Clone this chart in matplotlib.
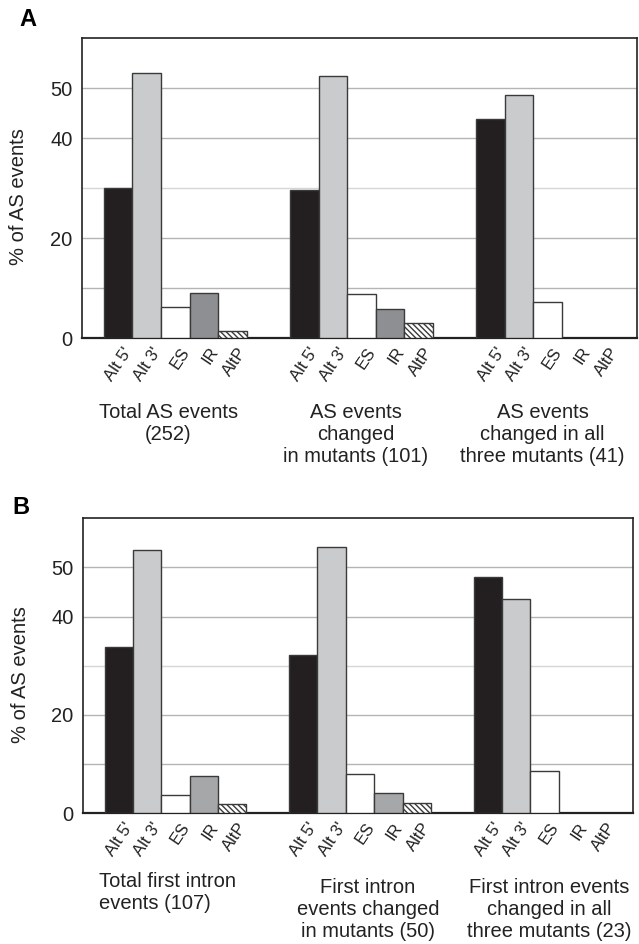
import matplotlib.pyplot as plt
from matplotlib.transforms import blended_transform_factory

plt.rcParams["font.family"] = ["Liberation Sans", "DejaVu Sans"]
plt.rcParams["hatch.linewidth"] = 1.0

EVENT_TYPES = ["Alt 5'", "Alt 3'", "ES", "IR", "AltP"]

# panel A: % of AS events per group
A_GROUPS = ["Total AS events\n(252)", "AS events\nchanged\nin mutants (101)", "AS events\nchanged in all\nthree mutants (41)"]
A_VALUES = [
    [30.0, 53.1, 6.3, 9.1, 1.5],
    [29.7, 52.4, 8.9, 5.8, 3.0],
    [43.9, 48.7, 7.3, 0.0, 0.0],
]

# panel B: first intron events
B_GROUPS = ["Total first intron\nevents (107)", "First intron\nevents changed\nin mutants (50)", "First intron events\nchanged in all\nthree mutants (23)"]
B_VALUES = [
    [33.8, 53.5, 3.7, 7.5, 1.8],
    [32.2, 54.2, 8.0, 4.1, 2.0],
    [48.0, 43.5, 8.7, 0.0, 0.0],
]

Y_TICKS = [0, 20, 40, 50]
GRID_LINES = [10, 20, 30, 40, 50]

EDGE = "#3a3a3a"
FILLS = ["#231f20", "#cacbcd", "#ffffff", None, "#ffffff"]
HATCHES = [None, None, None, None, "\\\\\\\\\\\\"]


def draw_panel(fig, rect, values, groups, ir_color, label_dx, label_y, label_align, letter, letter_xy):
    ax = fig.add_axes(rect)
    group_step = 6.5
    centers = []
    names = []
    for g, row in enumerate(values):
        for i, v in enumerate(row):
            x = g * group_step + i + 0.5
            centers.append(x)
            names.append(EVENT_TYPES[i])
            face = ir_color if i == 3 else FILLS[i]
            if v <= 0:
                continue
            ax.bar(x, v, width=1.0, color=face, edgecolor=EDGE, linewidth=1.0,
                   hatch=HATCHES[i], zorder=3)
    for y in GRID_LINES:
        ax.axhline(y, color="#d6d6d6" if y == 30 else "#b4b4b4", linewidth=1.0, zorder=1)
    ax.set_xlim(-0.75, 18.63)
    ax.set_ylim(0, 60)
    ax.set_yticks(Y_TICKS)
    ax.set_yticklabels([str(t) for t in Y_TICKS], fontsize=14.5, color="#222222")
    ax.set_xticks([c + 0.38 for c in centers])
    ax.set_xticklabels(names, rotation=56, ha="right", va="center", rotation_mode="anchor",
                       fontsize=12, color="#222222")
    ax.tick_params(axis="y", length=0, pad=7)
    ax.tick_params(axis="x", length=0, pad=8)
    for side in ["left", "top", "right"]:
        ax.spines[side].set_linewidth(1.2)
        ax.spines[side].set_color("#222222")
    ax.spines["bottom"].set_linewidth(1.6)
    ax.spines["bottom"].set_color("#222222")
    ax.set_ylabel("% of AS events", fontsize=14.5, color="#222222")
    ax.yaxis.set_label_coords(-0.097, 0.47)

    trans = blended_transform_factory(ax.transData, ax.transAxes)
    for g, text in enumerate(groups):
        ax.text(g * group_step + 2.5 + label_dx[g], label_y[g], text, transform=trans,
                ha="center", va="top", multialignment=label_align[g],
                fontsize=14.5, color="#222222", linespacing=1.2)
    fig.text(letter_xy[0], letter_xy[1], letter, fontsize=17, fontweight="bold",
             ha="center", va="center")
    return ax


fig = plt.figure(figsize=(6.39, 9.44), dpi=100)

draw_panel(fig, [82.3 / 639, 1 - 338 / 944, 555 / 639, 300 / 944], A_VALUES, A_GROUPS, "#8e8f92",
           [-0.25, -0.2, -0.18], [-0.217, -0.217, -0.217], ["center", "center", "center"],
           "A", (27.5 / 639, 1 - 20 / 944))
draw_panel(fig, [83.3 / 639, 1 - 813.3 / 944, 550 / 639, 295 / 944], B_VALUES, B_GROUPS, "#a6a7a9",
           [-0.3, 0.28, 0.16], [-0.198, -0.22, -0.22], ["left", "center", "center"],
           "B", (20.5 / 639, 1 - 507 / 944))

fig.savefig("out.png", dpi=100)
